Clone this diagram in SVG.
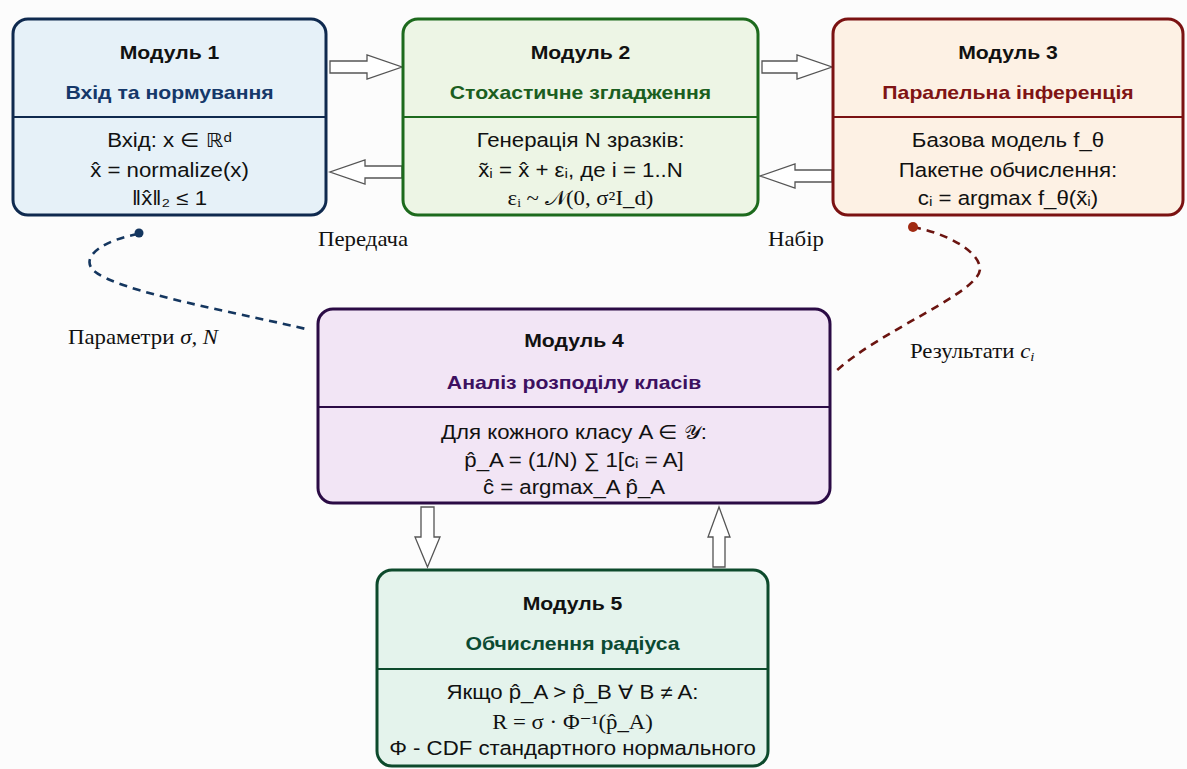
<svg xmlns="http://www.w3.org/2000/svg" width="1187" height="769" viewBox="0 0 1187 769">
<defs>
<style>
.box{stroke-width:3}
.div{stroke-width:2}
.t{font-family:"Liberation Sans",Arial,"DejaVu Sans",sans-serif;font-size:18.6px;font-weight:bold;text-anchor:middle;fill:#111}
.b{font-family:"Liberation Sans",Arial,"DejaVu Sans",sans-serif;font-size:19.5px;text-anchor:middle;fill:#111}
.s{font-family:"Liberation Serif","Times New Roman","DejaVu Serif",serif;font-size:20px;text-anchor:middle;fill:#111}
.lbl{font-family:"Liberation Serif","Times New Roman","DejaVu Serif",serif;font-size:20px;fill:#111}
.blk{fill:#ffffff;stroke:#555;stroke-width:1.3;stroke-linejoin:miter}
.dash{fill:none;stroke-width:2.6;stroke-dasharray:8 6}
</style>
</defs>
<rect x="0" y="0" width="1187" height="769" fill="#fcfcfc"/>

<g id="connectors">
<path class="blk" d="M330,61 H367 V55 L402,67 L367,79 V73 H330 Z"/>
<path class="blk" d="M402,166 H365 V160 L330,172 L365,184 V178 H402 Z"/>
<path class="blk" d="M762,61 H797 V55 L832,67 L797,79 V73 H762 Z"/>
<path class="blk" d="M832,170 H795 V164 L760,176 L795,188 V182 H832 Z"/>
<path class="blk" d="M421,507 V537 H415 L427.5,567 L440,537 H434 V507 Z"/>
<path class="blk" d="M713,567 V537 H708 L719,507 L730,537 H725 V567 Z"/>
<path class="dash" stroke="#14365f" d="M138,234 C105,240 80,256 93,270 C115,292 250,315 310,330"/>
<circle cx="139" cy="233" r="4.5" fill="#14365f"/>
<path class="dash" stroke="#6b1410" d="M913,227 C945,233 978,250 980,268 C982,292 880,330 835,372"/>
<circle cx="913" cy="227" r="5" fill="#a02a12"/>
<g transform="translate(318 0) scale(1.14 1)"><text class="lbl" x="0" y="246">Передача</text></g>
<g transform="translate(768 0) scale(1.14 1)"><text class="lbl" x="0" y="246">Набір</text></g>
<g transform="translate(68 0) scale(1.14 1)"><text class="lbl" x="0" y="344">Параметри <tspan font-style="italic">σ, N</tspan></text></g>
<g transform="translate(910 0) scale(1.14 1)"><text class="lbl" x="0" y="358">Результати <tspan font-style="italic">c<tspan font-size="13" dy="3">i</tspan></tspan></text></g>
</g>

<g id="module1">
<rect class="box" x="13" y="19" width="313" height="196" rx="15" fill="#e6f1f8" stroke="#0f2a4f"/>
<line class="div" x1="13" y1="117" x2="326" y2="117" stroke="#0f2a4f"/>
<g transform="translate(169.5 0) scale(1.14 1)">
<text class="t" x="0" y="59">Модуль 1</text>
<text class="t" x="0" y="99" style="fill:#15386a">Вхід та нормування</text>
<text class="b" x="0" y="147">Вхід: x ∈ ℝᵈ</text>
<text class="b" x="0" y="177">x̂ = normalize(x)</text>
<text class="b" x="0" y="205">‖x̂‖₂ ≤ 1</text>
</g>
</g>

<g id="module2">
<rect class="box" x="403" y="19" width="355" height="196" rx="15" fill="#edf5e5" stroke="#1d6a1d"/>
<line class="div" x1="403" y1="117" x2="758" y2="117" stroke="#1d6a1d"/>
<g transform="translate(580.5 0) scale(1.14 1)">
<text class="t" x="0" y="59">Модуль 2</text>
<text class="t" x="0" y="99" style="fill:#1b5e20">Стохастичне згладження</text>
<text class="b" x="0" y="147">Генерація N зразків:</text>
<text class="b" x="0" y="177">x̃ᵢ = x̂ + εᵢ, де i = 1..N</text>
<text class="s" x="0" y="205">εᵢ ~ 𝒩(0, σ²I_d)</text>
</g>
</g>

<g id="module3">
<rect class="box" x="833" y="19" width="350" height="196" rx="15" fill="#fdf1e4" stroke="#7b1212"/>
<line class="div" x1="833" y1="117" x2="1183" y2="117" stroke="#7b1212"/>
<g transform="translate(1008 0) scale(1.14 1)">
<text class="t" x="0" y="59">Модуль 3</text>
<text class="t" x="0" y="99" style="fill:#7f1414">Паралельна інференція</text>
<text class="b" x="0" y="147">Базова модель f_θ</text>
<text class="b" x="0" y="177">Пакетне обчислення:</text>
<text class="b" x="0" y="205">cᵢ = argmax f_θ(x̃ᵢ)</text>
</g>
</g>

<g id="module4">
<rect class="box" x="318" y="309" width="512" height="194" rx="15" fill="#f2e5f5" stroke="#2b0b45"/>
<line class="div" x1="318" y1="407" x2="830" y2="407" stroke="#2b0b45"/>
<g transform="translate(574 0) scale(1.14 1)">
<text class="t" x="0" y="347">Модуль 4</text>
<text class="t" x="0" y="389" style="fill:#3d1060">Аналіз розподілу класів</text>
<text class="b" x="0" y="439">Для кожного класу A ∈ 𝒴:</text>
<text class="b" x="0" y="467">p̂_A = (1/N) ∑ 1[cᵢ = A]</text>
<text class="b" x="0" y="494">ĉ = argmax_A p̂_A</text>
</g>
</g>

<g id="module5">
<rect class="box" x="377" y="570" width="391" height="196" rx="15" fill="#e4f3ec" stroke="#0d4a2c"/>
<line class="div" x1="377" y1="669" x2="768" y2="669" stroke="#0d4a2c"/>
<g transform="translate(572.5 0) scale(1.14 1)">
<text class="t" x="0" y="610">Модуль 5</text>
<text class="t" x="0" y="650" style="fill:#0b4a32">Обчислення радіуса</text>
<text class="b" x="0" y="699">Якщо p̂_A &gt; p̂_B ∀ B ≠ A:</text>
<text class="s" x="0" y="729">R = σ · Φ⁻¹(p̂_A)</text>
<text class="b" x="0" y="755">Φ - CDF стандартного нормального</text>
</g>
</g>
</svg>
